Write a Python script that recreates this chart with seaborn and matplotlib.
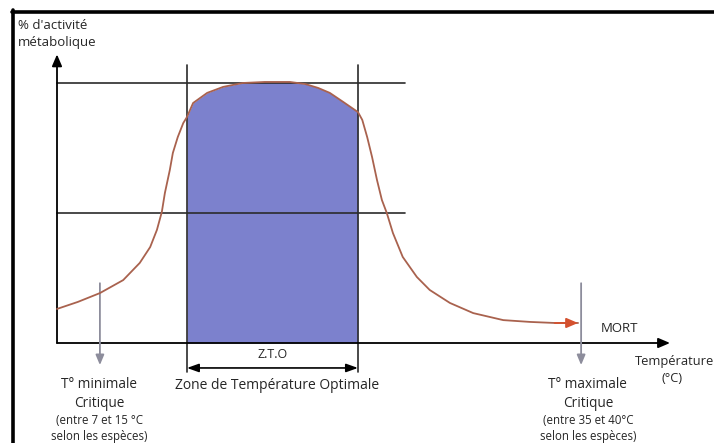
import matplotlib
matplotlib.use("Agg")
import matplotlib.pyplot as plt
import seaborn as sns
import pandas as pd
from matplotlib.lines import Line2D

# courbe d'activite metabolique (temperature relative 0-100, activite 0-100)
temperature = [0.0, 3.4, 7.0, 10.8, 13.5, 15.2, 16.3, 17.1, 17.6, 18.4, 18.9,
               19.7, 20.6, 21.2, 22.2, 24.5, 27.1, 30.3, 33.9, 38.0, 40.5,
               42.6, 44.5, 46.7, 49.1, 49.8, 50.6, 51.4, 52.2, 53.0, 53.8,
               54.8, 56.4, 58.7, 60.8, 64.1, 67.9, 72.8, 77.2, 81.2, 85.0]
activite = [13.1, 15.8, 19.2, 24.2, 30.8, 36.9, 43.5, 50.4, 57.7, 66.5, 73.1,
            79.2, 84.6, 86.9, 92.3, 96.2, 98.5, 100.0, 100.4, 100.4, 99.6,
            98.1, 96.2, 92.7, 88.8, 85.8, 79.2, 71.5, 62.7, 55.0, 50.0,
            42.3, 33.1, 25.4, 20.4, 15.4, 11.5, 8.8, 8.1, 7.7, 7.7]

zto_debut, zto_fin = 21.2, 49.1
t_min_critique, t_max_critique = 7.0, 85.5
niveau_max, niveau_moitie = 100, 50

df = pd.DataFrame({"temperature": temperature, "activite": activite})

sns.set_style("white")
plt.rcParams["font.family"] = ["Open Sans", "DejaVu Sans"]

fig = plt.figure(figsize=(7.14, 4.43), dpi=100)
ax = fig.add_axes([0, 0, 1, 1])
ax.set_xlim(-57 / 6.13, 657 / 6.13)
ax.set_ylim(-100 / 2.6, 343 / 2.6)
ax.axis("off")

noir = "#2b2b2b"
texte = "#262626"
courbe = "#a9624e"
bleu = "#7c81cd"
gris = "#8d8d9c"

# zone de temperature optimale
zone = df[(df.temperature >= zto_debut) & (df.temperature <= zto_fin)]
ax.fill_between(zone.temperature, 0, zone.activite, color=bleu, lw=0, zorder=1)

# lignes de repere
ax.plot([0, 56.8], [niveau_max, niveau_max], color=noir, lw=1.2, zorder=3)
ax.plot([0, 56.8], [niveau_moitie, niveau_moitie], color=noir, lw=1.2, zorder=3)
for xv in (zto_debut, zto_fin):
    ax.plot([xv, xv], [-11.2, 106.9], color=noir, lw=1.2, zorder=3)

# axes fleches
fleche = "-|>,head_length=0.7,head_width=0.3"
ax.annotate("", xy=(0, 111), xytext=(0, 0),
            arrowprops=dict(arrowstyle=fleche, color="black", lw=1.3,
                            shrinkA=0, shrinkB=0))
ax.annotate("", xy=(100, 0), xytext=(0, 0),
            arrowprops=dict(arrowstyle=fleche, color="black", lw=1.3,
                            shrinkA=0, shrinkB=0))

# courbe
sns.lineplot(data=df, x="temperature", y="activite", sort=False,
             color=courbe, lw=1.3, ax=ax, zorder=4)
ax.annotate("", xy=(temperature[-1], activite[-1]),
            xytext=(temperature[-2], activite[-2]),
            arrowprops=dict(arrowstyle=fleche, color="#d4512f", lw=1.3,
                            shrinkA=0, shrinkB=0),
            zorder=5)

# double fleche Z.T.O
ax.annotate("", xy=(zto_fin, -9.6), xytext=(zto_debut, -9.6),
            arrowprops=dict(arrowstyle="<|-|>,head_length=0.7,head_width=0.25",
                            color="black", lw=1.2, shrinkA=0, shrinkB=0))

# fleches grises des temperatures critiques
for xv in (t_min_critique, t_max_critique):
    ax.annotate("", xy=(xv, -8.5), xytext=(xv, 23.0),
                arrowprops=dict(arrowstyle="-|>,head_length=0.6,head_width=0.25",
                                color=gris, lw=1.3, shrinkA=0, shrinkB=0))

# textes
ax.text(-6.4, 122.3, "% d'activité", fontsize=9.5, va="center", ha="left",
        color=texte)
ax.text(-6.4, 115.4, "métabolique", fontsize=9.5, va="center", ha="left",
        color=texte)
ax.text(35.1, -4.6, "Z.T.O", fontsize=9, ha="center", va="center", color=texte)
ax.text(35.9, -16.2, "Zone de Température Optimale", fontsize=10,
        ha="center", va="center", color=texte)
ax.text(91.7, 5.4, "MORT", fontsize=9.5, ha="center", va="center", color=texte)
ax.text(100.7, -7.3, "Température", fontsize=9.3, ha="center", va="center",
        color=texte)
ax.text(100.3, -13.5, "(°C)", fontsize=9.3, ha="center", va="center",
        color=texte)

for xv, titre, soustitre, plage, especes in [
    (6.9, "T° minimale", "Critique", "(entre 7 et 15 °C", "selon les espèces)"),
    (86.6, "T° maximale", "Critique", "(entre 35 et 40°C", "selon les espèces)"),
]:
    ax.text(xv, -15.8, titre, fontsize=9.8, ha="center", va="center", color=texte)
    ax.text(xv, -23.1, soustitre, fontsize=9.8, ha="center", va="center", color=texte)
    ax.text(xv, -30.0, plage, fontsize=8.3, ha="center", va="center", color=texte)
    ax.text(xv, -35.9, especes, fontsize=8.3, ha="center", va="center", color=texte)

# cadre de l'image
fig.add_artist(Line2D([12 / 714, 1], [1 - 11.5 / 443, 1 - 11.5 / 443],
                      color="black", lw=2.6, transform=fig.transFigure))
fig.add_artist(Line2D([13.5 / 714, 13.5 / 714], [0, 1 - 10 / 443],
                      color="black", lw=2.6, transform=fig.transFigure))

fig.savefig("out.png", dpi=100)
